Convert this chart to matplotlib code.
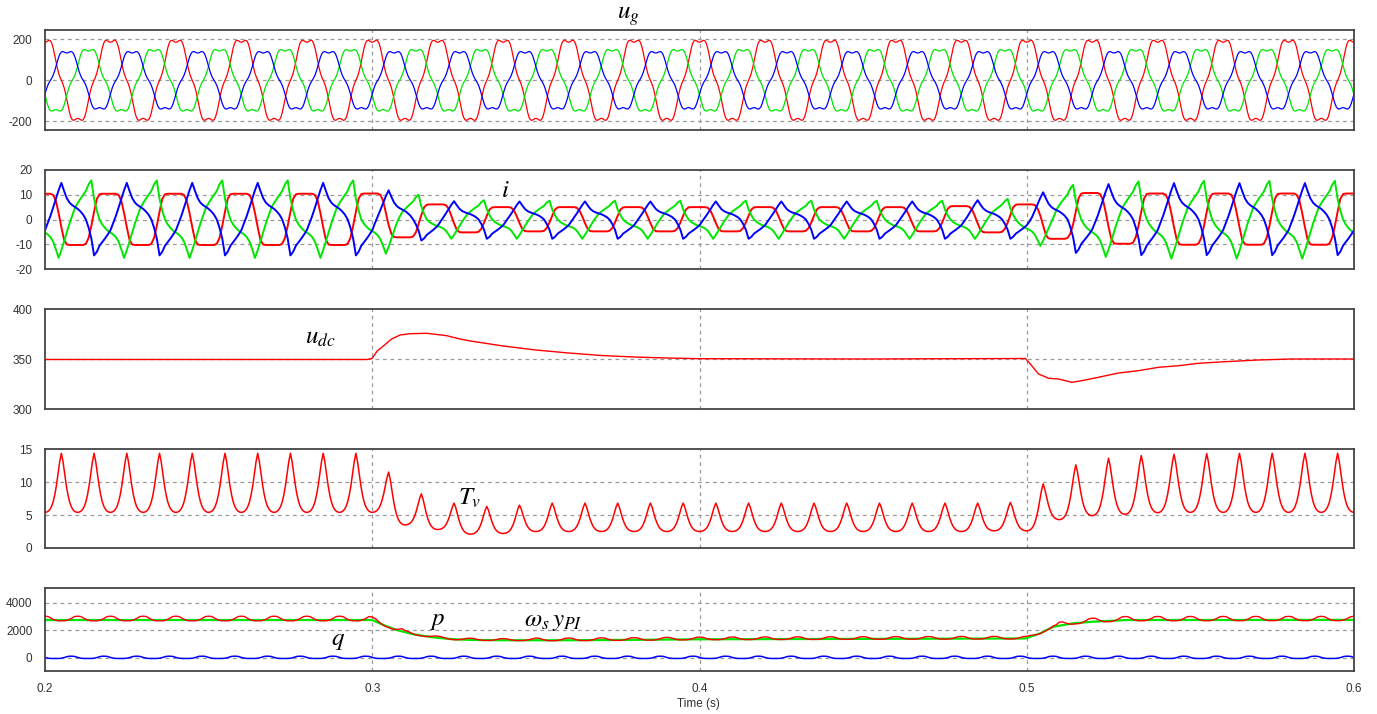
import numpy as np
import matplotlib.pyplot as plt

plt.rcParams['mathtext.fontset'] = 'stix'
plt.rcParams['font.family'] = ['Liberation Sans', 'DejaVu Sans']
plt.rcParams['axes.unicode_minus'] = False

RED, BLUE, GREEN = '#ff0000', '#0000ff', '#00e600'

# ---- u_g : half cycle of the distorted grid voltage (7.5 deg steps from the peak), p.u.
ug_half = [0.950, 0.960, 0.984, 1.000, 0.985, 0.922, 0.805, 0.648, 0.475, 0.313, 0.180, 0.079,
           0.000, -0.079, -0.180, -0.313, -0.475, -0.648, -0.805, -0.922, -0.985, -1.000, -0.984, -0.960]
ug_peak = [195, 140, 150]          # phase a (red), b (blue), c (green)

# ---- i : one cycle per phase (15 deg steps, cycle starts at t = 0.2 + 0.02k), p.u.
ia_shape = [1.0, 1.0, 1.0, 0.95, 0.72, 0.25, -0.3, -0.8, -0.98, -1.0, -1.0, -1.0,
            -1.0, -1.0, -1.0, -0.95, -0.72, -0.25, 0.3, 0.8, 0.98, 1.0, 1.0, 1.0]
ib_shape = [-0.30, -0.10, 0.10, 0.33, 0.57, 0.80, 1.00, 0.78, 0.58, 0.46, 0.39, 0.34,
            0.29, 0.22, 0.13, 0.00, -0.23, -0.53, -1.00, -0.90, -0.73, -0.63, -0.53, -0.42]
ic_shape = [-0.34, -0.39, -0.46, -0.58, -0.78, -1.00, -0.80, -0.57, -0.33, -0.10, 0.10, 0.30,
            0.42, 0.53, 0.63, 0.73, 0.90, 1.00, 0.53, 0.23, 0.00, -0.13, -0.22, -0.29]
# positive / negative peak of every cycle (A)
ia_pos = [10.4, 10.4, 10.4, 10.4, 10.4, 10.5, 6.1, 5.0, 5.0, 5.0,
          5.0, 5.0, 5.0, 5.0, 5.4, 6.1, 10.7, 10.5, 10.5, 10.5]
ia_neg = [-10.3, -10.3, -10.3, -10.3, -10.3, -7.2, -5.2, -4.8, -4.8, -4.8,
          -4.8, -4.8, -4.8, -4.8, -5.2, -7.8, -9.8, -10.2, -10.2, -10.2]
ib_pos = [14.8, 14.8, 14.8, 14.8, 14.8, 11.8, 7.4, 7.3, 7.3, 7.3,
          7.3, 7.3, 7.3, 7.3, 7.8, 11.0, 14.3, 14.7, 14.7, 14.7]
ib_neg = [-14.5, -14.5, -14.5, -14.5, -14.5, -8.5, -7.8, -7.8, -7.8, -7.8,
          -7.8, -7.8, -7.8, -7.8, -7.8, -13.5, -14.4, -14.4, -14.4, -14.4]
ic_pos = [15.8, 15.8, 15.8, 15.8, 15.8, 10.0, 7.8, 7.6, 7.6, 7.6,
          7.6, 7.6, 7.6, 7.6, 8.3, 14.0, 15.4, 15.6, 15.6, 15.6]
ic_neg = [-15.5, -15.5, -15.5, -15.5, -13.8, -7.8, -7.8, -7.8, -7.8, -7.8,
          -7.8, -7.8, -7.8, -7.8, -10.7, -15.1, -15.8, -15.8, -15.8, -15.8]

# ---- u_dc (V)
udc_t = [0.2, 0.25, 0.2985, 0.3, 0.3015, 0.3034, 0.3059, 0.3085, 0.3115, 0.3166, 0.3228, 0.3268,
         0.33, 0.34, 0.35, 0.36, 0.37, 0.38, 0.39, 0.40, 0.45, 0.4996, 0.5011, 0.5036, 0.5067,
         0.5097, 0.5138, 0.5168, 0.5219, 0.5280, 0.5341, 0.5403, 0.5464, 0.5525, 0.5606, 0.5707,
         0.5808, 0.5911, 0.6]
udc_v = [349.5, 349.5, 349.5, 350.7, 358, 363, 370, 374, 375.3, 375.7, 373.3, 370,
         368, 363, 359, 356, 353.5, 352, 351, 350.3, 350, 350.5, 345, 335, 330.7,
         330, 326.7, 328.3, 331.7, 336, 338.3, 341.7, 343.3, 345.7, 347.3, 349,
         350, 350, 350]

# ---- T_v : one 100 Hz period (trough -> peak -> trough), p.u.
tv_shape = [0, 0.005, 0.02, 0.05, 0.1, 0.18, 0.3, 0.46, 0.66, 0.86,
            1.0, 0.86, 0.66, 0.46, 0.3, 0.18, 0.1, 0.05, 0.02, 0.005]
tv_peak = [14.35, 14.35, 14.35, 14.35, 14.35, 14.35, 14.35, 14.35, 14.35, 14.35,
           11.5, 8.2, 6.8, 6.3, 6.5, 6.8, 6.8, 6.8, 6.8, 6.8,
           6.8, 6.8, 6.8, 6.8, 6.8, 6.8, 6.8, 6.8, 6.8, 6.9,
           9.7, 12.6, 13.6, 14.0, 14.2, 14.3, 14.35, 14.35, 14.35, 14.35]
tv_low = [5.4, 5.4, 5.4, 5.4, 5.4, 5.4, 5.4, 5.4, 5.4, 5.4,
          5.4, 3.5, 2.8, 2.1, 2.2, 2.5, 2.5, 2.5, 2.5, 2.5,
          2.5, 2.5, 2.5, 2.5, 2.5, 2.5, 2.5, 2.5, 2.5, 2.6,
          2.6, 4.3, 4.9, 5.1, 5.35, 5.4, 5.4, 5.4, 5.4, 5.4, 5.4]

# ---- p, q, omega_s*y_PI (W / var)
wy_t = [0.2, 0.3, 0.3034, 0.3075, 0.3126, 0.3187, 0.3248, 0.3309, 0.34, 0.36,
        0.38, 0.40, 0.45, 0.4996, 0.5041, 0.5081, 0.5142, 0.5203, 0.5305, 0.6]
wy_v = [2740, 2740, 2380, 2010, 1700, 1480, 1340, 1290, 1270, 1270,
        1300, 1340, 1370, 1400, 1770, 2250, 2500, 2620, 2740, 2750]
p_bump = [1.0, 0.9, 0.4, 0.0, -0.2, -0.2, -0.2, 0.0, 0.4, 0.9]
p_ripple = [280, 280, 280, 280, 280, 280, 280, 280, 280, 280,
            220, 120, 120, 120, 120, 160, 160, 160, 160, 160,
            160, 160, 160, 160, 160, 160, 160, 160, 160, 160,
            120, 260, 260, 260, 260, 260, 260, 260, 260, 260]
q_bump = [0.4, 0.0, -0.1, -0.1, -0.1, 0.0, 0.4, 0.9, 1.0, 0.9]
q_base = -40
q_ripple = [150] * 40


def phase_current(shape, pos, neg, start, n_pos, n):
    # scale each half cycle of the shape by its own peak value
    shape = np.asarray(shape)
    c = np.clip((n - start) // 24, 0, len(pos) - 1)
    j = (n - start) % 24
    amp = np.where(j < n_pos, np.asarray(pos)[c], -np.asarray(neg)[c])
    return shape[n % 24] * amp


fig = plt.figure(figsize=(13.77, 7.14), dpi=100)
rows = [(30, 130), (170, 269), (309, 409), (449, 548), (588, 671)]
axes = [fig.add_axes([45 / 1377, 1 - b / 714, 1309 / 1377, (b - t) / 714]) for t, b in rows]
ylims = [(-242, 245), (-20, 20), (300, 400), (0, 15), (-967, 5069)]
yticks = [[-200, 0, 200], [-20, -10, 0, 10, 20], [300, 350, 400], [0, 5, 10, 15], [0, 2000, 4000]]

for ax, yl, yt in zip(axes, ylims, yticks):
    ax.set_xlim(0.2, 0.6)
    ax.set_ylim(*yl)
    ax.set_yticks(yt)
    ax.set_xticks([0.2, 0.3, 0.4, 0.5, 0.6])
    ax.tick_params(length=0, pad=9, labelsize=8.5, colors='#333333')
    for y in yt:
        if yl[0] < y < yl[1]:
            ax.axhline(y, color='#9a9a9a', ls=(0, (3, 3)), lw=0.9, zorder=0)
    for x in (0.3, 0.4, 0.5):
        ax.axvline(x, color='#9a9a9a', ls=(0, (3, 3)), lw=0.9, zorder=0)
    for s in ax.spines.values():
        s.set_color('#444444')
        s.set_linewidth(1.3)
    if ax is not axes[-1]:
        ax.set_xticklabels([])
axes[-1].set_xticklabels(['0.2', '0.3', '0.4', '0.5', '0.6'])

# u_g
n = np.arange(20 * 48 + 1)
t = 0.2 + n * 0.02 / 48
cyc = np.concatenate([ug_half, -np.asarray(ug_half)])
axes[0].plot(t, ug_peak[0] * cyc[n % 48], color=RED, lw=0.9)
axes[0].plot(t, ug_peak[2] * cyc[(n - 32) % 48], color=GREEN, lw=0.9)
axes[0].plot(t, ug_peak[1] * cyc[(n - 16) % 48], color=BLUE, lw=0.9)

# i
n = np.arange(20 * 24 + 1)
t = 0.2 + n * 0.02 / 24
axes[1].plot(t, phase_current(ia_shape, ia_pos, ia_neg, -6, 12, n), color=RED, lw=1.4)
axes[1].plot(t, phase_current(ic_shape, ic_pos, ic_neg, 10, 10, n), color=GREEN, lw=1.4)
axes[1].plot(t, phase_current(ib_shape, ib_pos, ib_neg, 2, 14, n), color=BLUE, lw=1.4)

# u_dc
axes[2].plot(udc_t, udc_v, color=RED, lw=1.0)

# T_v
n = np.arange(40 * 20 + 1)
t = 0.2 + n * 0.01 / 20
j = n % 20
k = n // 20
base = np.where(j <= 10, np.asarray(tv_low)[k], np.asarray(tv_low)[np.minimum(k + 1, 40)])
pk = np.asarray(tv_peak)[np.minimum(k, 39)]
axes[3].plot(t, base + (pk - base) * np.asarray(tv_shape)[j], color=RED, lw=1.1)

# p, q, omega_s*y_PI
n = np.arange(40 * 10 + 1)
t = 0.2 + n * 0.001
k = np.minimum(n // 10, 39)
wy = np.interp(t, wy_t, wy_v)
p = wy + np.asarray(p_ripple)[k] * np.asarray(p_bump)[n % 10]
q = q_base + np.asarray(q_ripple)[k] * np.asarray(q_bump)[n % 10]
axes[4].plot(t, q, color=BLUE, lw=1.1)
axes[4].plot(wy_t, wy_v, color=GREEN, lw=1.6)
axes[4].plot(t, p, color=RED, lw=1.0)

lab = dict(fontsize=18, ha='center', va='center', color='black')
fig.text(628 / 1377, 1 - 16 / 714, r'$u_g$', **lab)
fig.text(505 / 1377, 1 - 190 / 714, r'$i$', **lab)
fig.text(320 / 1377, 1 - 337 / 714, r'$u_{dc}$', **lab)
fig.text(470 / 1377, 1 - 498 / 714, r'$T_v$', **lab)
fig.text(438 / 1377, 1 - 620 / 714, r'$p$', **lab)
fig.text(553 / 1377, 1 - 621 / 714, r'$\omega_s\,y_{PI}$', **lab)
fig.text(338 / 1377, 1 - 640 / 714, r'$q$', **lab)
fig.text(698 / 1377, 1 - 704 / 714, 'Time (s)', ha='center', va='center',
         fontsize=8.5, color='#333333')

fig.savefig('out.png', dpi=100)
